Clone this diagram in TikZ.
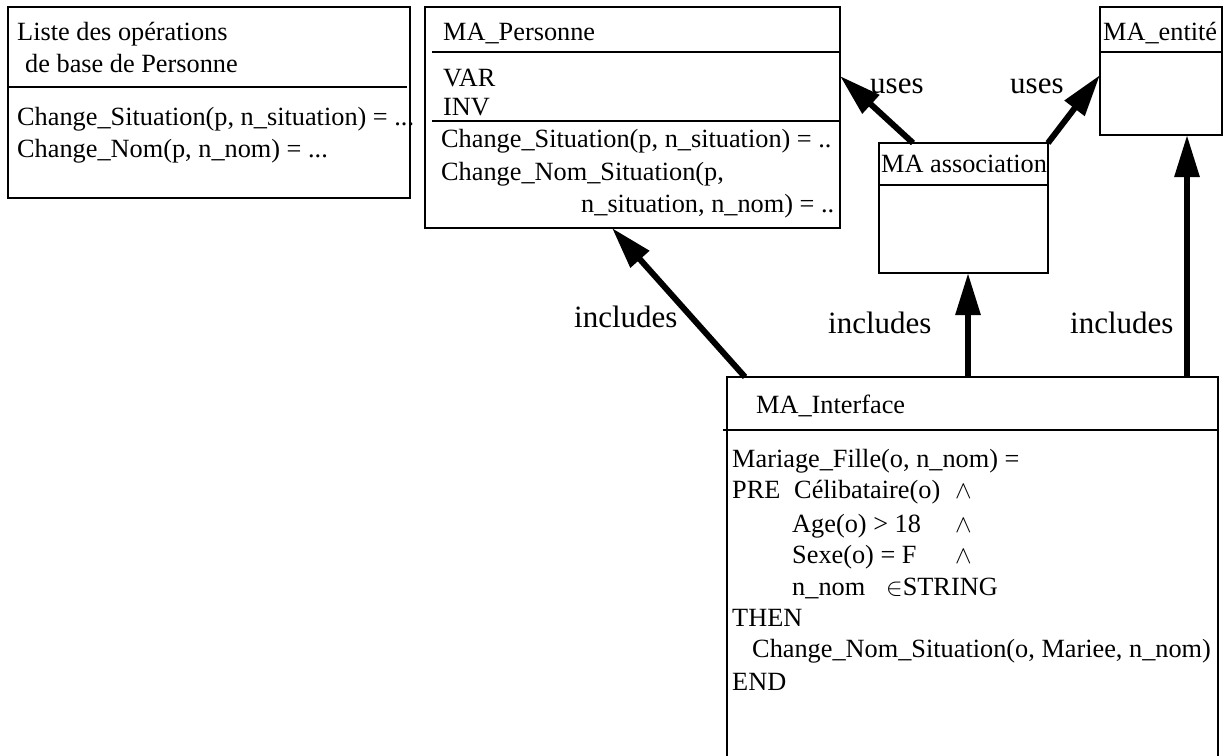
\documentclass[tikz,border=0pt]{standalone}
\usepackage{fontspec}
\setmainfont{Liberation Serif}
\usetikzlibrary{arrows.meta,calc}
\begin{document}
\begin{tikzpicture}[x=1pt,y=-1pt,
  box/.style={draw, line width=2.5pt, inner sep=0pt, outer sep=0pt, anchor=north west},
  sep/.style={line width=2.5pt},
  txt/.style={anchor=base west, inner sep=0pt, font=\fontsize{26.3}{32}\selectfont},
  lbl/.style={anchor=base west, inner sep=0pt, font=\fontsize{31}{36}\selectfont},
  link/.style={line width=6pt, -{Triangle[length=42pt,width=24pt]}}]
\clip (0,0) rectangle (1226,755);

% class boxes
\node[box, minimum width=402, minimum height=191] (liste) at (8,7) {};
\node[box, minimum width=415, minimum height=221] (pers) at (425,7) {};
\node[box, minimum width=122, minimum height=128] (ent) at (1100,7) {};
\node[box, minimum width=169, minimum height=130] (assoc) at (879,143) {};
\node[box, minimum width=491, minimum height=400] (iface) at (727,377) {};

% compartment separators
\draw[sep] ([yshift=-80pt]liste.north west) -- ([yshift=-80pt,xshift=-3pt]liste.north east);
\draw[sep] ([yshift=-45pt,xshift=7pt]pers.north west) -- ([yshift=-45pt]pers.north east);
\draw[sep] ([yshift=-114pt,xshift=7pt]pers.north west) -- ([yshift=-114pt]pers.north east);
\draw[sep] ([yshift=-45pt]ent.north west) -- ([yshift=-45pt]ent.north east);
\draw[sep] ([yshift=-42pt]assoc.north west) -- ([yshift=-42pt]assoc.north east);
\draw[sep] ([yshift=-53pt,xshift=-4pt]iface.north west) -- ([yshift=-53pt]iface.north east);

% dependencies
\draw[link] ([xshift=34pt]assoc.north west) -- ([yshift=-69pt]pers.north east);
\draw[link] (assoc.north east) -- ([yshift=-68pt]ent.north west);
\draw[link] ([xshift=18pt]iface.north west) -- ([xshift=187pt]pers.south west);
\draw[link] ([xshift=241pt]iface.north west) -- ([xshift=89pt]assoc.south west);
\draw[link] ([xshift=460pt]iface.north west) -- ([xshift=87pt]ent.south west);

% dependency labels
\node[lbl] (u1) at (870,93) {uses};
\node[lbl] (u2) at (1010,93) {uses};
\node[lbl] (i1) at (574,327) {includes};
\node[lbl] (i2) at (828,333) {includes};
\node[lbl] (i3) at (1070,333) {includes};

% list of base operations
\node[txt] (l1) at (17,40) {Liste des opérations};
\node[txt] (l2) at (25,72) {de base de Personne};
\node[txt] (l3) at (17,125) {Change\_Situation(p, n\_situation) = ...};
\node[txt] (l4) at (17,157) {Change\_Nom(p, n\_nom) = ...};

% MA_Personne
\node[txt] (p1) at (443,40) {MA\_Personne};
\node[txt] (p2) at (443,86) {VAR};
\node[txt] (p3) at (443,115) {INV};
\node[txt] (p4) at (441,147) {Change\_Situation(p, n\_situation) = ..};
\node[txt] (p5) at (441,180) {Change\_Nom\_Situation(p,};
\node[txt] (p6) at (581,212) {n\_situation, n\_nom) = ..};

% MA_entité and MA association
\node[txt] (e1) at (1103,40) {MA\_entité};
\node[txt] (a1) at (881,172) {MA association};

% MA_Interface
\node[txt] (f0) at (756,413) {MA\_Interface};
\node[txt] (f1) at (732,467) {Mariage\_Fille(o, n\_nom) =};
\node[txt] (f2) at (732,498) {PRE};
\node[txt] (f2b) at (794,498) {Célibataire(o)};
\node[txt] (f3) at (792,532) {Age(o) > 18};
\node[txt] (f4) at (792,563) {Sexe(o) = F};
\node[txt] (f5) at (792,595) {n\_nom};
\node[txt] (f5b) at (886,595) {$\in$STRING};
\node[txt] (w1) at (955,498) {$\wedge$};
\node[txt] (w2) at (955,532) {$\wedge$};
\node[txt] (w3) at (955,563) {$\wedge$};
\node[txt] (f6) at (732,626) {THEN};
\node[txt] (f7) at (752,657) {Change\_Nom\_Situation(o, Mariee, n\_nom)};
\node[txt] (f8) at (732,690) {END};
\end{tikzpicture}
\end{document}
